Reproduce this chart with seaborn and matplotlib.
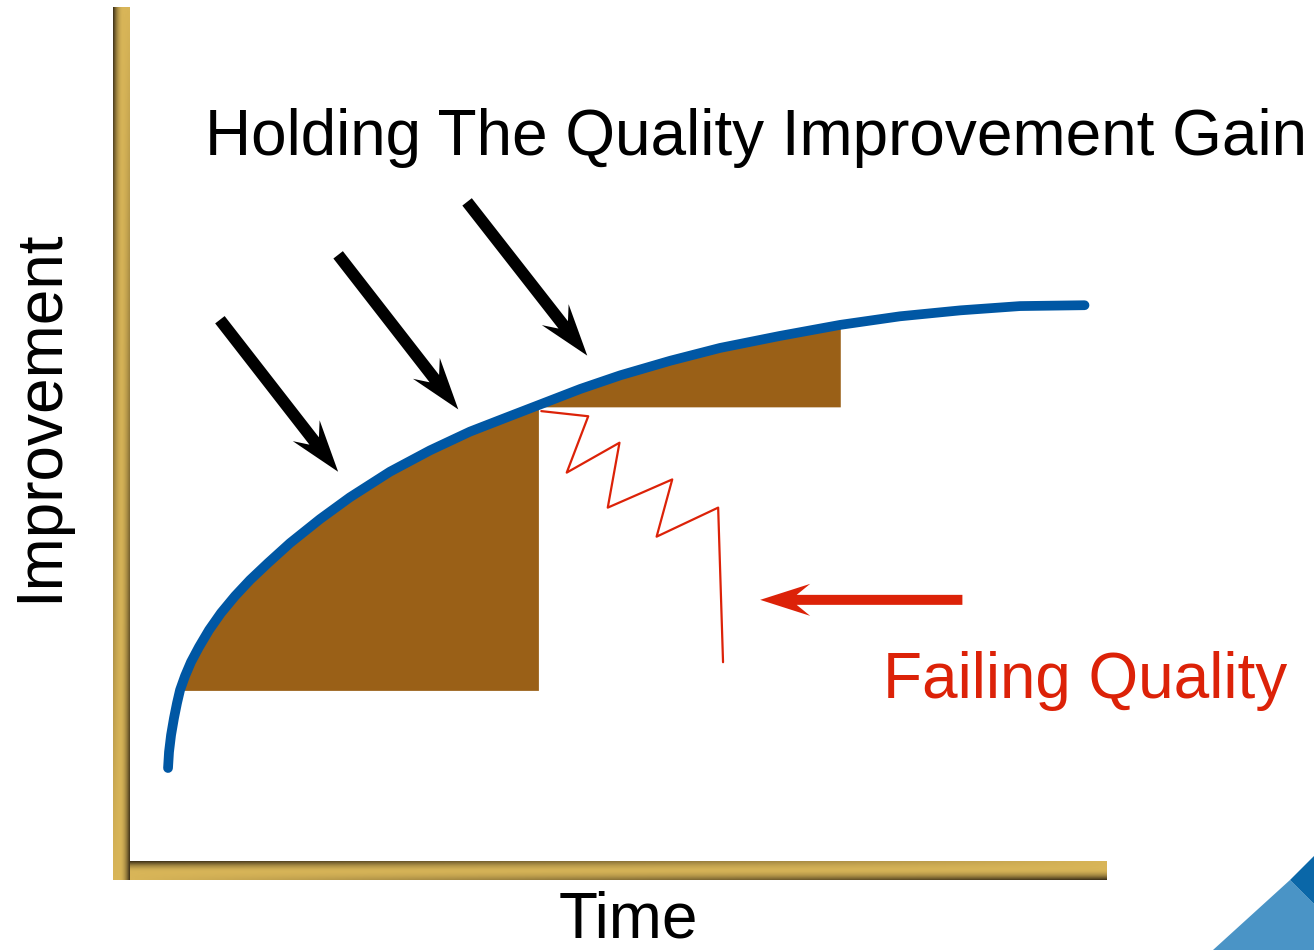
import numpy as np
import matplotlib
matplotlib.use("Agg")
import matplotlib.pyplot as plt
import seaborn as sns
from matplotlib.colors import LinearSegmentedColormap
from matplotlib.patches import FancyArrow, Polygon
from matplotlib.transforms import IdentityTransform

# improvement curve (time 0..100, improvement 0..100)
curve_time = [3.89, 3.99, 4.20, 4.50, 4.81, 5.12, 5.63, 6.24, 7.06, 8.09, 9.31, 10.75,
              12.28, 14.12, 16.38, 19.45, 22.5, 26.6, 30.7, 34.8, 38.4, 41.8, 46.1,
              50.2, 55.3, 60.4, 66.5, 72.7, 78.8, 85.0, 91.1, 97.7]
curve_gain = [11.01, 12.88, 14.87, 16.86, 18.62, 20.14, 21.78, 23.42, 25.18, 27.17,
              29.16, 31.15, 33.02, 35.01, 37.35, 40.16, 42.7, 45.7, 48.2, 50.4, 52.0,
              53.5, 55.4, 57.0, 58.7, 60.2, 61.6, 62.9, 63.9, 64.6, 65.1, 65.2]

# held gains (brown blocks): start time, end time, floor level
hold_start = [5.12, 41.8]
hold_end = [41.8, 72.7]
hold_floor = [20.1, 53.3]

# failing quality zigzag
fail_time = [42.1, 46.9, 44.7, 50.1, 48.9, 55.5, 53.9, 60.2, 60.7]
fail_gain = [52.8, 52.2, 45.6, 49.1, 41.5, 44.8, 38.1, 41.5, 23.4]

# "holding" arrows: tail -> tip
hold_arrow_tail = [(9.2, 63.5), (21.3, 71.1), (34.5, 77.3)]
hold_arrow_tip = [(21.3, 45.7), (33.6, 53.0), (46.8, 59.3)]
fail_arrow_tail = (85.2, 30.7)
fail_arrow_tip = (64.5, 30.7)

title = "Holding The Quality Improvement Gain"
xlabel = "Time"
ylabel = "Improvement"
fail_label = "Failing Quality"

BLUE = "#0057A4"
BROWN = "#9A6017"
RED = "#DC2208"

sns.set_theme(style="white")
plt.rcParams["font.family"] = ["Liberation Sans", "DejaVu Sans"]

fig = plt.figure(figsize=(13.14, 9.5), dpi=100)
fig.patch.set_facecolor("white")
ax = fig.add_axes([0, 0, 1, 1])
ax.set_facecolor("white")

# gold axis bars with shading
gold = LinearSegmentedColormap.from_list("gold", ["#D8B558", "#3E3118"])
t = np.linspace(0, 1, 300)[:, None]
u = np.linspace(0, 1, 24)[None, :]
vbar = (1 - t) * np.clip(1 - u / 0.6, 0, 1) ** 2 + t * np.clip((u - 0.4) / 0.6, 0, 1) ** 2
ax.imshow(vbar, cmap=gold, vmin=0, vmax=1, aspect="auto", origin="upper",
          extent=(-1.74, 0, -2.11, 100), interpolation="bilinear", zorder=1)
s = np.linspace(0, 1, 300)[None, :]
v = np.linspace(0, 1, 24)[:, None]
hbar = (1 - s) * np.clip(1 - v / 0.6, 0, 1) ** 2 + s * np.clip((v - 0.4) / 0.6, 0, 1) ** 2
ax.imshow(hbar, cmap=gold, vmin=0, vmax=1, aspect="auto", origin="upper",
          extent=(0, 100, -2.11, 0), interpolation="bilinear", zorder=1)

ax.set_xlim(-13.31, 121.19)
ax.set_ylim(-10.30, 100.94)
ax.axis("off")

# brown held-gain areas under the curve
ct = np.array(curve_time)
cg = np.array(curve_gain)
for x0, x1, floor in zip(hold_start, hold_end, hold_floor):
    m = (ct >= x0 - 1e-9) & (ct <= x1 + 1e-9)
    ax.fill_between(ct[m], cg[m], floor, color=BROWN, linewidth=0, zorder=2)

# failing zigzag
sns.lineplot(x=fail_time, y=fail_gain, sort=False, estimator=None, color=RED,
             linewidth=1.6, ax=ax, zorder=3, legend=False)

# improvement curve
sns.lineplot(x=curve_time, y=curve_gain, sort=False, estimator=None, color=BLUE,
             linewidth=7, solid_capstyle="round", solid_joinstyle="round",
             ax=ax, zorder=4, legend=False)

# arrows drawn in pixel space so heads are not distorted
def add_arrow(tail, tip, color, width, head_w, head_l, overhang):
    (x0, y0), (x1, y1) = ax.transData.transform([tail, tip])
    arr = FancyArrow(x0, y0, x1 - x0, y1 - y0, width=width, head_width=head_w,
                     head_length=head_l, overhang=overhang, length_includes_head=True,
                     color=color, linewidth=0, transform=IdentityTransform(), zorder=5)
    ax.add_patch(arr)

for tail, tip in zip(hold_arrow_tail, hold_arrow_tip):
    add_arrow(tail, tip, "black", 12, 34, 52, 0.25)
add_arrow(fail_arrow_tail, fail_arrow_tip, RED, 10, 32, 50, 0.27)

# text
fig.text(205 / 1314, 1 - 155 / 950, title, fontsize=46, color="black",
         ha="left", va="baseline")
fig.text(40 / 1314, 1 - 416 / 950, ylabel, fontsize=46, color="black",
         rotation=90, ha="center", va="center")
fig.text(628 / 1314, 1 - 938 / 950, xlabel, fontsize=46, color="black",
         ha="center", va="baseline")
fig.text(883 / 1314, 1 - 698 / 950, fail_label, fontsize=46, color=RED,
         ha="left", va="baseline")

# corner decoration
W, H = 1314, 950
light = [(1213, 950), (1290, 880), (1314, 904), (1314, 950)]
dark = [(1290, 880), (1314, 856), (1314, 904)]
fig.patches.append(Polygon([(x / W, 1 - y / H) for x, y in light], closed=True,
                           facecolor="#4A94C6", edgecolor="none",
                           transform=fig.transFigure, figure=fig))
fig.patches.append(Polygon([(x / W, 1 - y / H) for x, y in dark], closed=True,
                           facecolor="#0A67A8", edgecolor="none",
                           transform=fig.transFigure, figure=fig))

fig.savefig("out.png", dpi=100, facecolor="white")
